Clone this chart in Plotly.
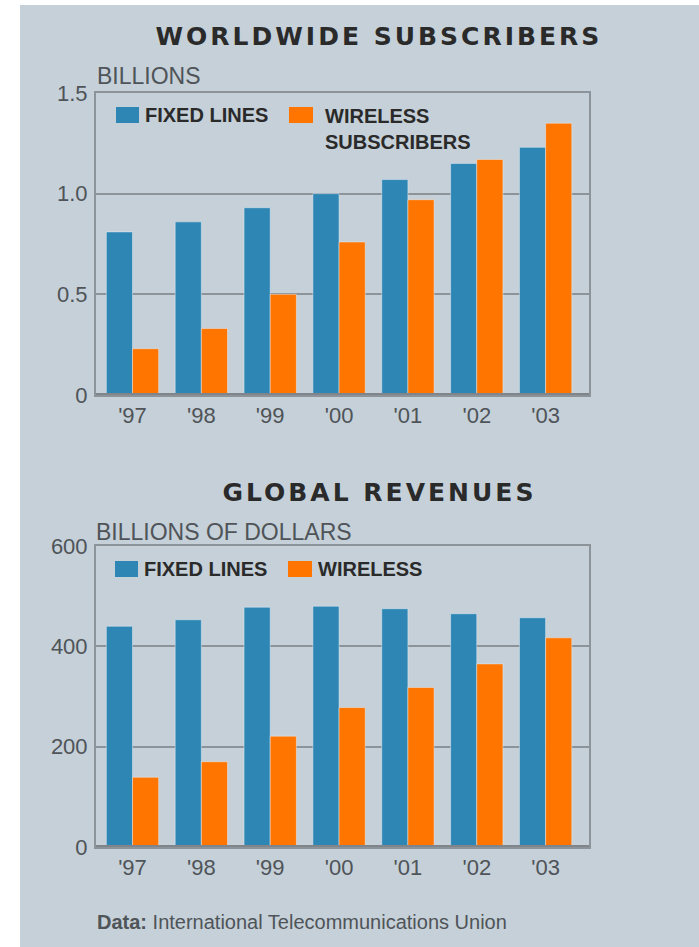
import plotly.graph_objects as go

# ---- data ----
years = ["'97", "'98", "'99", "'00", "'01", "'02", "'03"]
subs_fixed = [0.81, 0.86, 0.93, 1.00, 1.07, 1.15, 1.23]
subs_wireless = [0.23, 0.33, 0.50, 0.76, 0.97, 1.17, 1.35]
rev_fixed = [440, 453, 478, 480, 475, 465, 457]
rev_wireless = [139, 170, 221, 278, 318, 365, 417]
subs_ticks = [0, 0.5, 1.0, 1.5]
subs_ticktext = ["0", "0.5", "1.0", "1.5"]
rev_ticks = [0, 200, 400, 600]
rev_ticktext = ["0", "200", "400", "600"]
top_names = ["FIXED LINES", "WIRELESS<br>SUBSCRIBERS"]
bottom_names = ["FIXED LINES", "WIRELESS"]
top_title = "WORLDWIDE SUBSCRIBERS"
bottom_title = "GLOBAL REVENUES"
top_unit = "BILLIONS"
bottom_unit = "BILLIONS OF DOLLARS"
source_text = "<b>Data:</b> International Telecommunications Union"

W, H = 699, 947
BLUE = "#2e86b4"
ORANGE = "#ff7500"
BG = "#c5d0d8"
GRID = "#8c9399"
TXT = "#4f5458"
DARK = "#2a2a2a"

def px(x):
    return x / W

def py(y):
    return 1 - y / H

fig = go.Figure()
fig.add_bar(x=years, y=subs_fixed, name=top_names[0], marker_color=BLUE,
            xaxis="x", yaxis="y", showlegend=False)
fig.add_bar(x=years, y=subs_wireless, name=top_names[1], marker_color=ORANGE,
            xaxis="x", yaxis="y", showlegend=False)
fig.add_bar(x=years, y=rev_fixed, name=bottom_names[0], marker_color=BLUE,
            xaxis="x2", yaxis="y2", showlegend=False)
fig.add_bar(x=years, y=rev_wireless, name=bottom_names[1], marker_color=ORANGE,
            xaxis="x2", yaxis="y2", showlegend=False)

x_dom = [px(96), px(589)]
tick_font = dict(family="Liberation Sans, Arial, sans-serif", size=22, color=TXT)

axis_common_x = dict(domain=x_dom, range=[-0.53, 6.63], showgrid=False,
                     showline=True, mirror=True, linecolor=GRID, linewidth=2,
                     ticks="", tickfont=tick_font, fixedrange=True, automargin=False)
axis_common_y = dict(showgrid=True, gridcolor=GRID, gridwidth=2, zeroline=False,
                     showline=True, mirror=True, linecolor=GRID, linewidth=2,
                     ticks="", tickfont=tick_font, ticklabelstandoff=2,
                     automargin=False, fixedrange=True)

fig.update_layout(
    width=W, height=H,
    margin=dict(l=0, r=0, t=0, b=0, pad=0, autoexpand=False),
    paper_bgcolor="white",
    plot_bgcolor="rgba(0,0,0,0)",
    barmode="group", bargap=0.24, bargroupgap=0,
    xaxis=dict(anchor="y", **axis_common_x),
    yaxis=dict(anchor="x", domain=[py(395), py(93)], range=[0, 1.5],
               tickvals=subs_ticks, ticktext=subs_ticktext, **axis_common_y),
    xaxis2=dict(anchor="y2", **axis_common_x),
    yaxis2=dict(anchor="x2", domain=[py(847), py(546)], range=[0, 600],
                tickvals=rev_ticks, ticktext=rev_ticktext, **axis_common_y),
)

shapes = [
    dict(type="rect", xref="paper", yref="paper", x0=px(20), x1=1, y0=0, y1=py(5),
         fillcolor=BG, line=dict(width=0), layer="below"),
    # thick baseline
    dict(type="line", xref="x domain", yref="y", x0=0, x1=1, y0=0, y1=0,
         line=dict(color="#7f858a", width=4)),
    dict(type="line", xref="x2 domain", yref="y2", x0=0, x1=1, y0=0, y1=0,
         line=dict(color="#7f858a", width=4)),
    # legend swatches
    dict(type="rect", xref="paper", yref="paper", x0=px(116), x1=px(139), y0=py(123), y1=py(107),
         fillcolor=BLUE, line=dict(width=0)),
    dict(type="rect", xref="paper", yref="paper", x0=px(289), x1=px(313), y0=py(123), y1=py(107),
         fillcolor=ORANGE, line=dict(width=0)),
    dict(type="rect", xref="paper", yref="paper", x0=px(115), x1=px(138), y0=py(577), y1=py(561),
         fillcolor=BLUE, line=dict(width=0)),
    dict(type="rect", xref="paper", yref="paper", x0=px(288), x1=px(312), y0=py(577), y1=py(561),
         fillcolor=ORANGE, line=dict(width=0)),
]
fig.update_layout(shapes=shapes)

leg_font = dict(family="Liberation Sans, Arial, sans-serif", size=20, color=DARK)
unit_font = dict(family="Liberation Sans, Arial, sans-serif", size=23, color=TXT)
title_font = dict(family="DejaVu Sans, sans-serif", size=25, color=DARK)

ann = [
    dict(text="<b>" + top_title + "</b>", x=px(379), y=py(37), font=title_font,
         xanchor="center", yanchor="middle"),
    dict(text="<b>" + bottom_title + "</b>", x=px(380), y=py(492), font=title_font,
         xanchor="center", yanchor="middle"),
    dict(text=top_unit, x=px(95), y=py(76), font=unit_font, xanchor="left", yanchor="middle"),
    dict(text=bottom_unit, x=px(94), y=py(532), font=unit_font, xanchor="left", yanchor="middle"),
    dict(text="<b>" + top_names[0] + "</b>", x=px(143), y=py(115), font=leg_font,
         xanchor="left", yanchor="middle"),
    dict(text="<b>" + top_names[1] + "</b>", x=px(323), y=py(103), font=leg_font,
         xanchor="left", yanchor="top", align="left"),
    dict(text="<b>" + bottom_names[0] + "</b>", x=px(142), y=py(569), font=leg_font,
         xanchor="left", yanchor="middle"),
    dict(text="<b>" + bottom_names[1] + "</b>", x=px(316), y=py(569), font=leg_font,
         xanchor="left", yanchor="middle"),
    dict(text=source_text, x=px(95), y=py(922),
         font=dict(family="Liberation Sans, Arial, sans-serif", size=20, color=TXT),
         xanchor="left", yanchor="middle"),
]
for a in ann:
    a.update(xref="paper", yref="paper", showarrow=False)
fig.update_layout(annotations=ann)

js = (
    "document.body.style.margin='0';document.body.style.padding='0';"
    "document.documentElement.style.overflow='hidden';"
    "var gd=document.getElementById('{plot_id}');"
    "gd.querySelectorAll('.annotation-text').forEach(function(t){"
    "var s=t.textContent;"
    "if(s==='" + top_title + "'||s==='" + bottom_title + "'){t.style.letterSpacing='3px';}"
    "});"
)
fig.write_html("out.html", config={"displayModeBar": False}, post_script=js)
